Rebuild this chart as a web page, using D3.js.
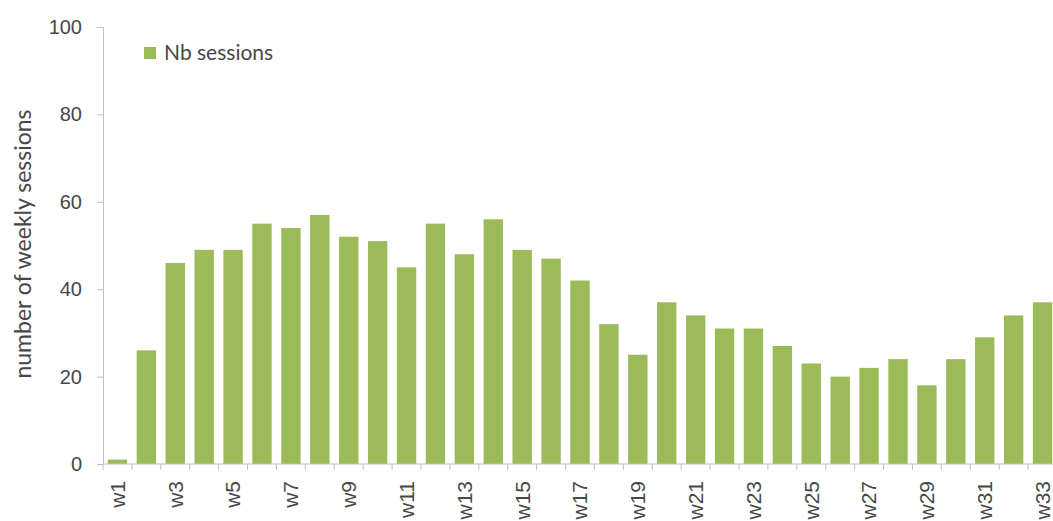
<!DOCTYPE html>
<html><head><meta charset="utf-8">
<script src="https://cdn.jsdelivr.net/npm/d3@7"></script>
<style>
html,body{margin:0;padding:0;background:#fff;}
svg{display:block;font-family:Lato,"Open Sans",sans-serif;}
</style></head>
<body><svg id="c" width="1053" height="521"></svg>
<script>
const weeks = ["w1","w2","w3","w4","w5","w6","w7","w8","w9","w10","w11","w12","w13","w14","w15","w16","w17","w18","w19","w20","w21","w22","w23","w24","w25","w26","w27","w28","w29","w30","w31","w32","w33"];
const sessions = [1,26,46,49,49,55,54,57,52,51,45,55,48,56,49,47,42,32,25,37,34,31,31,27,23,20,22,24,18,24,29,34,37];
const yTicks = [0,20,40,60,80,100];
const seriesName = "Nb sessions";
const yTitle = "number of weekly sessions";

const svg = d3.select("#c");
const x = d3.scaleBand().domain(weeks).range([103, 1057]).paddingInner(0.33).paddingOuter(0.165);
const y = d3.scaleLinear().domain([0,100]).range([464, 27]);
const axisCol = "#bfbfbf", txtCol = "#474747";

// bars
svg.append("g").selectAll("rect").data(weeks).join("rect")
  .attr("x", d => x(d)).attr("width", x.bandwidth())
  .attr("y", (d,i) => y(sessions[i])).attr("height", (d,i) => y(0) - y(sessions[i]))
  .attr("fill", "#9bbb59");

// y axis
const ya = svg.append("g").attr("transform","translate(103,0)")
  .call(d3.axisLeft(y).tickValues(yTicks).tickSize(6).tickPadding(15));
ya.select(".domain").attr("stroke", axisCol);
ya.selectAll(".tick line").attr("stroke", axisCol);
ya.selectAll("text").attr("fill", txtCol).style("font-size","20px");

// x axis
const xa = svg.append("g").attr("transform","translate(0,464)")
  .call(d3.axisBottom(x).tickValues(weeks.filter((d,i)=>i%2===0)).tickSize(0).tickPadding(0));
xa.select(".domain").remove();
xa.selectAll("text").attr("fill", txtCol).style("font-size","21px")
  .attr("transform","rotate(-90)").attr("text-anchor","end")
  .attr("x", -17).attr("y", 0).attr("dy","0.35em");
svg.append("line").attr("x1",103).attr("x2",1053).attr("y1",464).attr("y2",464).attr("stroke",axisCol);
svg.append("g").selectAll("line").data(weeks).join("line")
  .attr("x1", d => x(d) - x.step()*x.paddingInner()/2).attr("x2", d => x(d) - x.step()*x.paddingInner()/2)
  .attr("y1", 464).attr("y2", 470).attr("stroke", axisCol);

// y title
svg.append("text").attr("transform","translate(31,244) rotate(-90)")
  .attr("text-anchor","middle").attr("fill",txtCol).style("font-size","23px").text(yTitle);

// legend
svg.append("rect").attr("x",144).attr("y",47).attr("width",12).attr("height",12).attr("fill","#9bbb59");
svg.append("text").attr("x",164).attr("y",60).attr("fill",txtCol).style("font-size","21px").text(seriesName);
</script></body></html>
